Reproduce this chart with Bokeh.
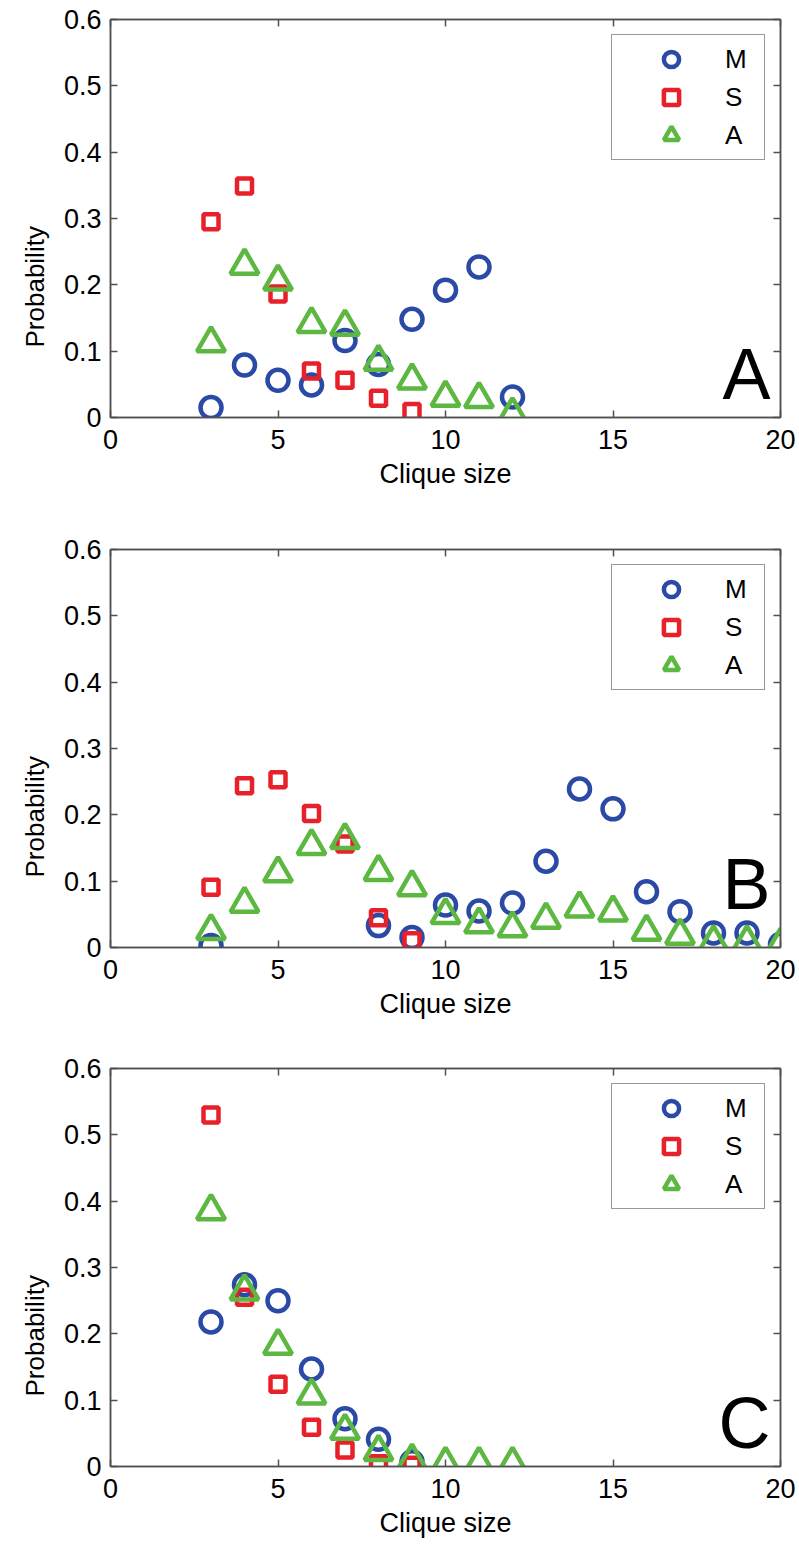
from bokeh.plotting import figure
from bokeh.layouts import column
from bokeh.models import Range1d, LinearAxis, FixedTicker, NumeralTickFormatter, Label, Title
from bokeh.embed import file_html
from bokeh.resources import INLINE

# ---------------- data ----------------
x_ticks = [0, 5, 10, 15, 20]
y_ticks = [0, 0.1, 0.2, 0.3, 0.4, 0.5, 0.6]
series_names = ["M", "S", "A"]
x_label = "Clique size"
y_label = "Probability"

A_M_x = [3, 4, 5, 6, 7, 8, 9, 10, 11, 12]
A_M_y = [0.015, 0.079, 0.056, 0.049, 0.116, 0.080, 0.148, 0.192, 0.227, 0.031]
A_S_x = [3, 4, 5, 6, 7, 8, 9]
A_S_y = [0.295, 0.349, 0.186, 0.070, 0.056, 0.029, 0.009]
A_A_x = [3, 4, 5, 6, 7, 8, 9, 10, 11, 12]
A_A_y = [0.112, 0.229, 0.205, 0.141, 0.137, 0.084, 0.056, 0.030, 0.028, 0.005]

B_M_x = [3, 8, 9, 10, 11, 12, 13, 14, 15, 16, 17, 18, 19, 20]
B_M_y = [0.003, 0.033, 0.015, 0.064, 0.055, 0.067, 0.130, 0.239, 0.209, 0.084, 0.054, 0.022, 0.022, 0.005]
B_S_x = [3, 4, 5, 6, 7, 8, 9]
B_S_y = [0.091, 0.244, 0.253, 0.202, 0.156, 0.045, 0.010]
B_A_x = [3, 4, 5, 6, 7, 8, 9, 10, 11, 12, 13, 14, 15, 16, 17, 18, 19, 20]
B_A_y = [0.025, 0.066, 0.112, 0.153, 0.162, 0.114, 0.091, 0.049, 0.035, 0.029,
         0.042, 0.059, 0.053, 0.024, 0.018, 0.008, 0.008, 0.004]

C_M_x = [3, 4, 5, 6, 7, 8, 9]
C_M_y = [0.218, 0.274, 0.250, 0.147, 0.072, 0.041, 0.007]
C_S_x = [3, 4, 5, 6, 7, 8, 9]
C_S_y = [0.530, 0.255, 0.124, 0.059, 0.025, 0.004, 0.002]
C_A_x = [3, 4, 5, 6, 7, 8, 9, 10, 11, 12]
C_A_y = [0.385, 0.264, 0.182, 0.107, 0.054, 0.022, 0.009, 0.004, 0.004, 0.004]

panel_letters = ["A", "B", "C"]
letter_y = [0.066, 0.095, 0.066]

panels = [
    ((A_M_x, A_M_y), (A_S_x, A_S_y), (A_A_x, A_A_y)),
    ((B_M_x, B_M_y), (B_S_x, B_S_y), (B_A_x, B_A_y)),
    ((C_M_x, C_M_y), (C_S_x, C_S_y), (C_A_x, C_A_y)),
]
heights = [530, 519, 497]

# ---------------- style ----------------
FONT = "Liberation Sans"
BLUE = "#2b4aa6"
RED = "#e8202a"
GREEN = "#5cb840"
FRAME = "#505050"
TICK_FS = "27px"
XLABEL_FS = "27px"
YLABEL_FS = "26px"
LEGEND_FS = "26px"

def style_axis(ax, show_labels):
    ax.axis_line_color = FRAME
    ax.axis_line_width = 1.5
    ax.major_tick_line_color = FRAME
    ax.major_tick_line_width = 1.5
    ax.major_tick_in = 7
    ax.major_tick_out = 0
    ax.minor_tick_line_color = None
    ax.major_label_text_font = FONT
    if show_labels:
        ax.major_label_text_font_size = TICK_FS
        ax.major_label_text_color = "black"
    else:
        ax.major_label_text_font_size = "1px"
        ax.major_label_text_color = None
        ax.major_label_standoff = 0
    ax.axis_label_text_font = FONT
    ax.axis_label_text_font_style = "normal"
    ax.axis_label_text_color = "black"

figs = []
for (m, s, a), letter, ly, h in zip(panels, panel_letters, letter_y, heights):
    p = figure(width=799, height=h, output_backend="svg", toolbar_location=None,
               x_range=Range1d(0, 20), y_range=Range1d(0, 0.6),
               min_border_left=110, min_border_right=19, min_border_top=19,
               min_border_bottom=h - 19 - 398, x_axis_label=x_label)
    p.grid.visible = False
    p.outline_line_color = FRAME
    p.outline_line_width = 1.5
    p.background_fill_color = "white"
    p.border_fill_color = "white"

    p.xaxis.ticker = FixedTicker(ticks=x_ticks)
    p.yaxis.ticker = FixedTicker(ticks=y_ticks)
    p.yaxis.formatter = NumeralTickFormatter(format="0.[0]")
    for ax in p.xaxis + p.yaxis:
        style_axis(ax, True)
    p.xaxis.axis_label_text_font_size = XLABEL_FS
    p.xaxis.major_label_standoff = 12
    p.xaxis.axis_label_standoff = 7
    p.yaxis.major_label_standoff = 9

    top = LinearAxis(ticker=FixedTicker(ticks=x_ticks))
    right = LinearAxis(ticker=FixedTicker(ticks=y_ticks))
    style_axis(top, False)
    style_axis(right, False)
    p.add_layout(top, "above")
    p.add_layout(right, "right")

    # y-axis title, placed a little below the axis centre as in the original
    p.add_layout(Title(text=y_label, text_font=FONT, text_font_size=YLABEL_FS,
                       text_font_style="normal", text_color="black",
                       align="left", offset=70, standoff=22), "left")

    p.scatter(m[0], m[1], marker="circle", size=21, fill_color=None,
              line_color=BLUE, line_width=4.5, legend_label=series_names[0])
    p.scatter(s[0], s[1], marker="square", size=15, fill_color=None,
              line_color=RED, line_width=4.5, legend_label=series_names[1])
    p.scatter(a[0], a[1], marker="triangle", size=28, fill_color=None,
              line_color=GREEN, line_width=4.5, legend_label=series_names[2])

    lg = p.legend[0]
    lg.location = "top_right"
    lg.margin = 15
    lg.padding = 5
    lg.spacing = 0
    lg.glyph_height = 38
    lg.glyph_width = 108
    lg.label_standoff = 0
    lg.label_width = 34
    lg.label_text_font = FONT
    lg.label_text_font_size = LEGEND_FS
    lg.label_text_color = "black"
    lg.border_line_color = "#333333"
    lg.border_line_width = 1.5
    lg.background_fill_alpha = 1.0

    p.add_layout(Label(x=19.7, y=ly, text=letter, text_font=FONT,
                       text_font_size="72px", text_align="right",
                       text_baseline="alphabetic", text_color="black"))
    figs.append(p)

layout = column(*figs, spacing=0)
open("out.html", "w").write(file_html(layout, INLINE))
